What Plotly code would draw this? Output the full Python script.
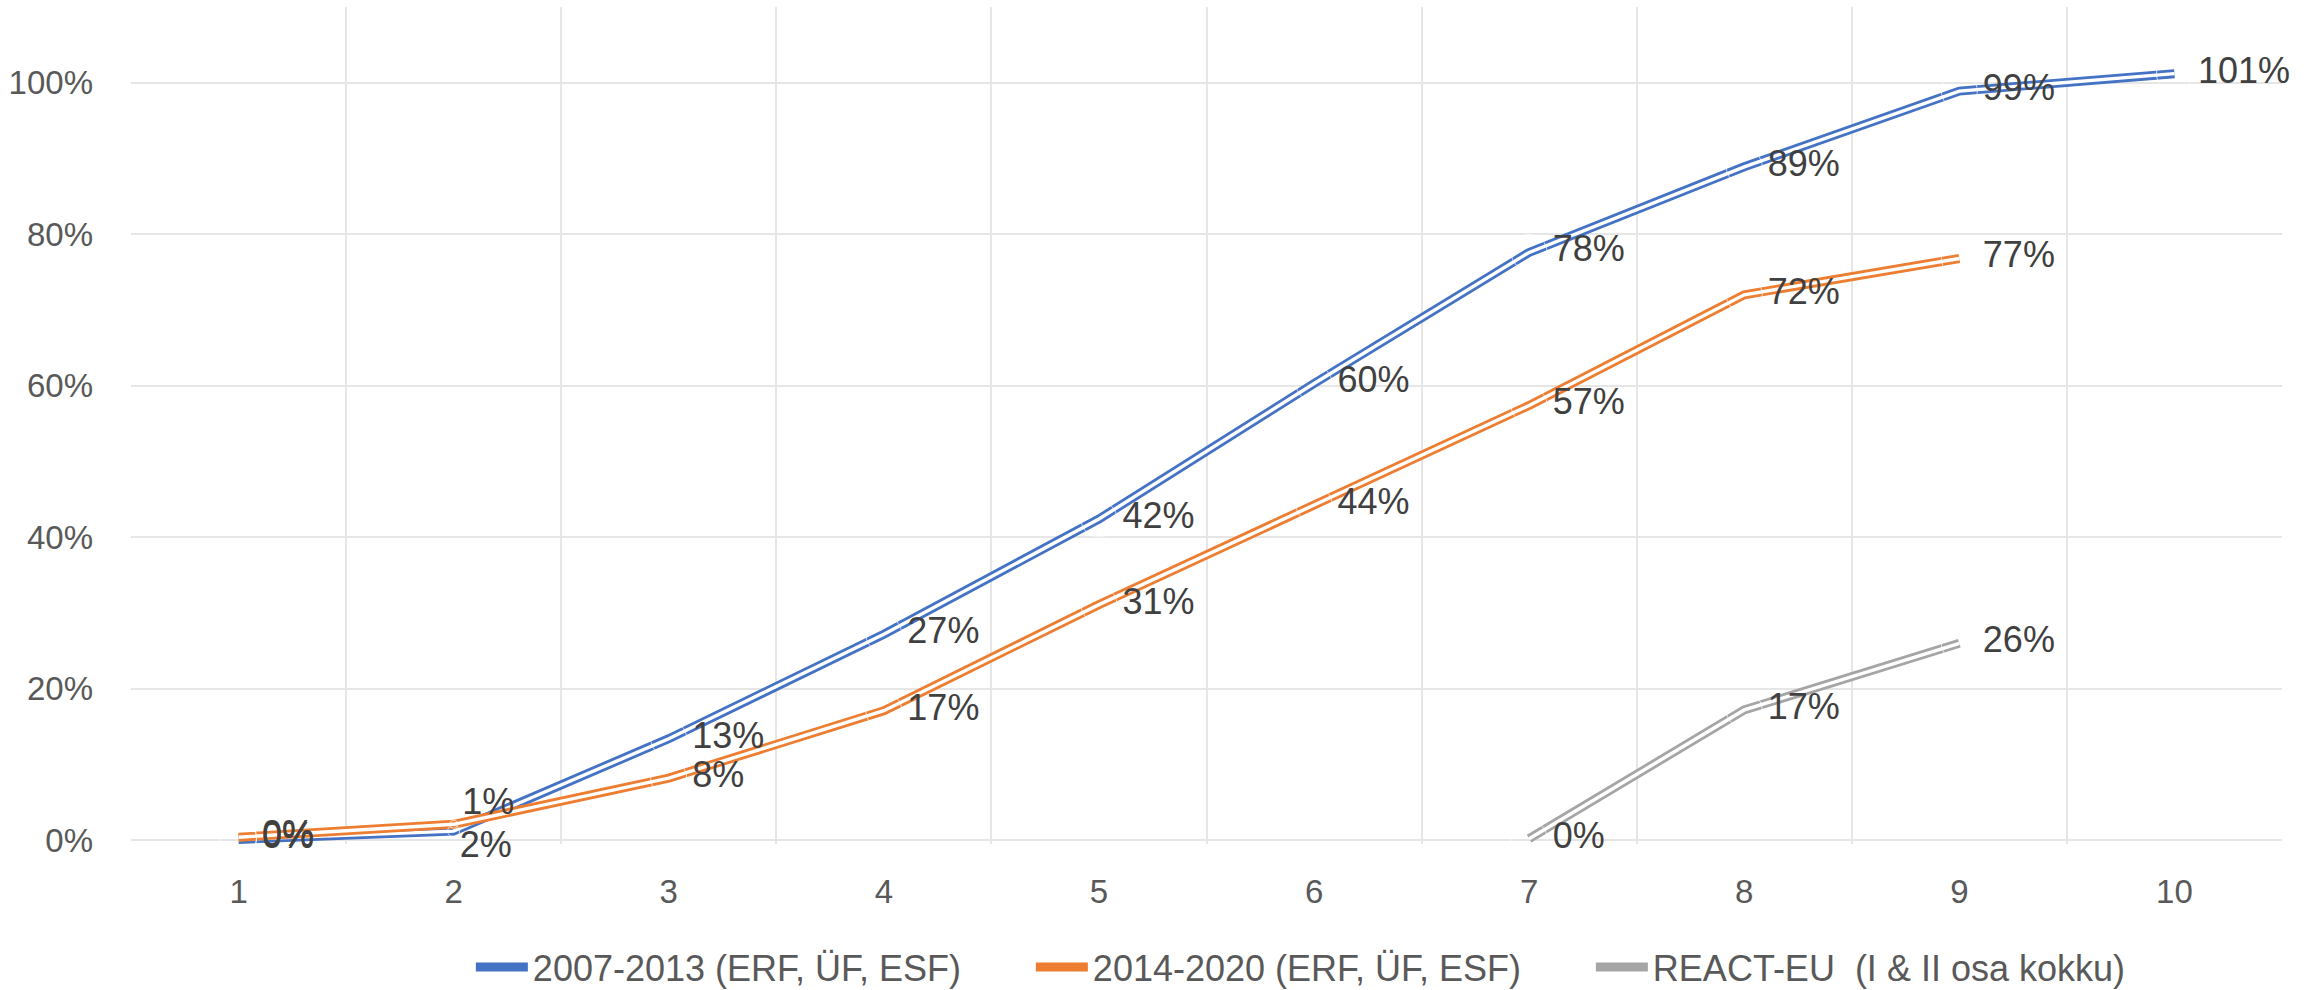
import plotly.graph_objects as go

# ---- data ----
categories = ["1", "2", "3", "4", "5", "6", "7", "8", "9", "10"]
series1_name = "2007-2013 (ERF, ÜF, ESF)"
series1_values = [0.001, 0.012, 0.134, 0.272, 0.424, 0.603, 0.776, 0.889, 0.989, 1.012]
series2_name = "2014-2020 (ERF, ÜF, ESF)"
series2_cats = ["1", "2", "3", "4", "5", "6", "7", "8", "9"]
series2_values = [0.004, 0.021, 0.082, 0.171, 0.311, 0.443, 0.574, 0.720, 0.768]
series3_name = "REACT-EU  (I & II osa kokku)"
series3_cats = ["7", "8", "9"]
series3_values = [0.002, 0.172, 0.260]
y_tickvals = [0, 0.2, 0.4, 0.6, 0.8, 1.0]
y_ticktext = ["0%", "20%", "40%", "60%", "80%", "100%"]

FONT = "Liberation Sans, Arial, sans-serif"
COL1, COL2, COL3 = "#4472C4", "#ED7D31", "#A5A5A5"
LW, GAP = 9, 3.4

fig = go.Figure()

series = [
    (series1_name, categories, series1_values, COL1),
    (series2_name, series2_cats, series2_values, COL2),
    (series3_name, series3_cats, series3_values, COL3),
]

# double lines: coloured thick line + thin white line on top
for name, cats, vals, col in series:
    fig.add_trace(go.Scatter(x=cats, y=vals, name=name, mode="lines",
                             line=dict(color=col, width=LW), hoverinfo="skip",
                             cliponaxis=False))
    fig.add_trace(go.Scatter(x=cats, y=vals, mode="lines", showlegend=False,
                             line=dict(color="white", width=GAP), hoverinfo="skip",
                             cliponaxis=False))

# data labels (drawn last so they sit on top of all lines)
def label_style(n, special=None):
    pos = ["middle right"] * n
    size = [36] * n
    if special:
        for i, (p, s) in special.items():
            pos[i] = p
            size[i] = s
    return pos, size

label_sets = [
    (categories, series1_values, label_style(len(categories), {1: ("top right", 12)})),
    (series2_cats, series2_values, label_style(len(series2_cats), {1: ("bottom right", 8)})),
    (series3_cats, series3_values, label_style(len(series3_cats))),
]
for cats, vals, (pos, size) in label_sets:
    fig.add_trace(go.Scatter(x=cats, y=vals, mode="markers+text", showlegend=False,
                             marker=dict(size=size, color="rgba(0,0,0,0)"),
                             texttemplate="%{y:.0%}", textposition=pos,
                             textfont=dict(family=FONT, size=36, color="#404040"),
                             hoverinfo="skip", cliponaxis=False))

fig.update_layout(
    width=2311, height=990, autosize=False,
    margin=dict(l=131, r=29, t=7, b=146, autoexpand=False),
    paper_bgcolor="white", plot_bgcolor="white",
    font=dict(family=FONT, color="#595959"),
    showlegend=True,
    legend=dict(orientation="h", x=0.158, xanchor="left", y=-0.147, yanchor="middle",
                font=dict(family=FONT, size=36, color="#595959"),
                itemwidth=52, entrywidth=493, entrywidthmode="pixels",
                bgcolor="rgba(0,0,0,0)", traceorder="normal"),
)
fig.update_xaxes(type="category", categoryorder="array", categoryarray=categories,
                 range=[-0.5, 9.5], tickson="boundaries", showgrid=True,
                 gridcolor="#E6E6E6", gridwidth=2, ticks="", showline=False,
                 zeroline=False, automargin=False,
                 tickfont=dict(family=FONT, size=33, color="#595959"),
                 ticklabelstandoff=25)
fig.update_yaxes(range=[-0.005, 1.1], tickvals=y_tickvals, ticktext=y_ticktext,
                 showgrid=True, gridcolor="#E6E6E6", gridwidth=2, zeroline=False,
                 showline=False, ticks="", automargin=False,
                 tickfont=dict(family=FONT, size=33, color="#595959"),
                 ticklabelstandoff=37)

fig.write_html(
    "out.html",
    config={"displayModeBar": False},
    post_script="document.body.style.margin='0';document.body.style.overflow='hidden';",
)
